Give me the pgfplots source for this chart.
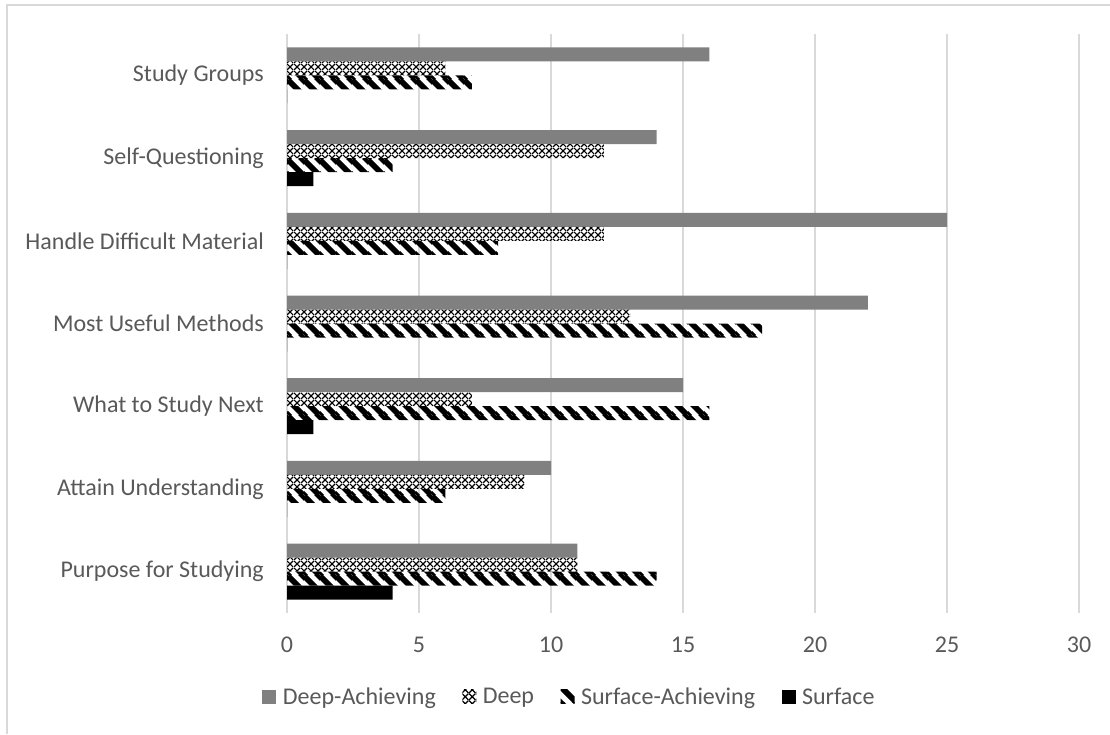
\documentclass[border=0pt]{standalone}
\usepackage{fontspec}
\setmainfont{Carlito}
\usepackage{pgfplots}
\pgfplotsset{compat=1.18}
\usepackage{pgfplotstable}
\usetikzlibrary{patterns}

\definecolor{gridgray}{HTML}{D9D9D9}
\definecolor{labelgray}{HTML}{595959}
\definecolor{bargray}{HTML}{808080}

% small diamond lattice
\pgfdeclarepatternformonly{diamondlattice}{\pgfpointorigin}{\pgfpoint{7pt}{7pt}}{\pgfpoint{7pt}{7pt}}{%
  \pgfsetlinewidth{1.3pt}%
  \pgfpathmoveto{\pgfpoint{0pt}{0pt}}\pgfpathlineto{\pgfpoint{7pt}{7pt}}%
  \pgfpathmoveto{\pgfpoint{0pt}{7pt}}\pgfpathlineto{\pgfpoint{7pt}{0pt}}%
  \pgfusepath{stroke}}

% wide downward diagonal stripes
\pgfdeclarepatternformonly{widestripes}{\pgfpointorigin}{\pgfpoint{16pt}{16pt}}{\pgfpoint{16pt}{16pt}}{%
  \pgfsetlinewidth{6pt}%
  \pgfpathmoveto{\pgfpoint{-8pt}{8pt}}\pgfpathlineto{\pgfpoint{8pt}{-8pt}}%
  \pgfpathmoveto{\pgfpoint{0pt}{16pt}}\pgfpathlineto{\pgfpoint{16pt}{0pt}}%
  \pgfpathmoveto{\pgfpoint{8pt}{24pt}}\pgfpathlineto{\pgfpoint{24pt}{8pt}}%
  \pgfusepath{stroke}}

\pgfplotstableread{
idx DA D  SA S
0   11 11 14 4
1   10 9  6  0
2   15 7  16 1
3   22 13 18 0
4   25 12 8  0
5   14 12 4  1
6   16 6  7  0
}\strategies

\begin{document}
\begin{tikzpicture}[x=1pt,y=1pt]
\useasboundingbox (0,0) rectangle (1110,734);
\draw[gridgray, line width=1.5pt] (7,0) -- (7,729) -- (1110,729);
\begin{axis}[
  at={(287pt,121pt)}, anchor=south west,
  width=792pt, height=579pt, scale only axis,
  xbar, bar width=14pt,
  xmin=0, xmax=30, ymin=-0.5, ymax=6.5,
  xtick={0,5,...,30},
  ytick={0,...,6},
  yticklabels={Purpose for Studying, Attain Understanding, What to Study Next,
    Most Useful Methods, Handle Difficult Material, Self-Questioning, Study Groups},
  xmajorgrids, grid style={gridgray, line width=1.5pt},
  axis line style={draw=none}, major tick length=0pt,
  /pgf/number format/assume math mode=true,
  tick label style={font=\fontsize{24}{28}\selectfont, text=labelgray},
  yticklabel style={anchor=east, inner sep=0pt, xshift=-23pt},
  xticklabel style={anchor=center, inner sep=0pt, yshift=-32pt},
  legend columns=4,
  legend style={draw=none, at={(0.357,-0.145)}, anchor=center,
    font=\fontsize{24}{28}\selectfont, text=labelgray,
    /tikz/every odd column/.append style={column sep=4pt},
    /tikz/every even column/.append style={column sep=24pt},
    nodes={inner xsep=2.5pt, inner ysep=0pt}},
  legend image code/.code={\fill[#1] (0pt,-7pt) rectangle (14pt,7pt);},
]
\addplot[draw=none, fill=bargray, bar shift=21pt] table[x=DA, y=idx] {\strategies};
\addlegendentry{Deep-Achieving}
\addplot[draw=none, pattern=diamondlattice, bar shift=7pt] table[x=D, y=idx] {\strategies};
\addlegendentry{Deep}
\addplot[draw=none, pattern=widestripes, bar shift=-7pt] table[x=SA, y=idx] {\strategies};
\addlegendentry{Surface-Achieving}
\addplot[draw=none, fill=black, bar shift=-21pt] table[x=S, y=idx] {\strategies};
\addlegendentry{Surface}
\end{axis}
\end{tikzpicture}
\end{document}
